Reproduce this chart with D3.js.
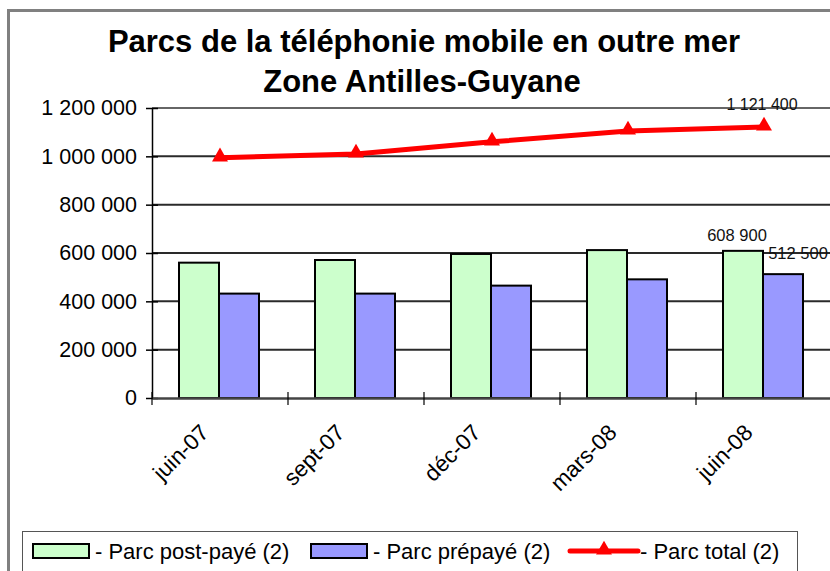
<!DOCTYPE html>
<html><head><meta charset="utf-8">
<script src="https://cdn.jsdelivr.net/npm/d3@7"></script>
<style>
html,body{margin:0;padding:0;background:#fff;}
svg{display:block;font-family:"Liberation Sans",Arial,sans-serif;}
</style></head>
<body>
<script>
const categories = ["juin-07","sept-07","déc-07","mars-08","juin-08"];
const postPaye = [560000, 571000, 596000, 612000, 608900];
const prepaye = [432000, 432000, 465000, 491000, 512500];
const total = [994000, 1010000, 1060000, 1105000, 1121400];
const yTicks = [0, 200000, 400000, 600000, 800000, 1000000, 1200000];
const seriesNames = ["- Parc post-payé (2)", "- Parc prépayé (2)", "- Parc total (2)"];
const titleLines = ["Parcs de la téléphonie mobile en outre mer", "Zone Antilles-Guyane"];

(function () {
const W = 830, H = 571;
const svg = d3.select("body").append("svg").attr("width", W).attr("height", H);

// outer frame
svg.append("rect").attr("x", 8.5).attr("y", 10.5).attr("width", 900).attr("height", 700)
  .attr("fill", "#fff").attr("stroke", "#808080").attr("stroke-width", 3);

// title
svg.append("text").attr("x", 424).attr("y", 52).attr("text-anchor", "middle")
  .attr("font-size", 31).attr("font-weight", "bold").text(titleLines[0]);
svg.append("text").attr("x", 422).attr("y", 92).attr("text-anchor", "middle")
  .attr("font-size", 31).attr("font-weight", "bold").text(titleLines[1]);

const pLeft = 152, pRight = 832, pTop = 108, pBottom = 398;
const x = d3.scaleBand().domain(categories).range([pLeft, pRight]).padding(0);
const y = d3.scaleLinear().domain([0, 1200000]).range([pBottom, pTop]);
const fmt = v => d3.format(",")(v).replace(/,/g, " ");

// gridlines
const g = svg.append("g");
g.selectAll(".grid").data(yTicks.filter(d => d > 0)).enter().append("line")
  .attr("x1", pLeft).attr("x2", W + 5).attr("y1", d => y(d)).attr("y2", d => y(d))
  .attr("stroke", d => d === 1200000 ? "#666" : "#2a2a2a").attr("stroke-width", 2);

// y axis
const yAxis = d3.axisLeft(y).tickValues(yTicks).tickFormat(fmt).tickSizeInner(6).tickSizeOuter(0);
const ya = svg.append("g").attr("transform", `translate(${pLeft},0)`).call(yAxis);
ya.select(".domain").attr("stroke", "#000").attr("stroke-width", 1.5);
ya.selectAll(".tick line").attr("stroke", "#000").attr("stroke-width", 1.5).attr("x2", -6).attr("x1", 6);
ya.selectAll(".tick text").attr("font-size", 21.5).attr("fill", "#000").attr("x", -15)
  .attr("font-family", "Liberation Sans, Arial, sans-serif");

// bars
const barW = 40, off = 27;
const bars = svg.append("g");
bars.selectAll(".post").data(categories).enter().append("rect")
  .attr("x", (d) => x(d) + off).attr("y", (d, i) => y(postPaye[i]))
  .attr("width", barW).attr("height", (d, i) => pBottom - y(postPaye[i]))
  .attr("fill", "#CCFFCC").attr("stroke", "#000").attr("stroke-width", 2);
bars.selectAll(".pre").data(categories).enter().append("rect")
  .attr("x", (d) => x(d) + off + barW).attr("y", (d, i) => y(prepaye[i]))
  .attr("width", barW).attr("height", (d, i) => pBottom - y(prepaye[i]))
  .attr("fill", "#9999FF").attr("stroke", "#000").attr("stroke-width", 2);

// x axis
const xAxis = d3.axisBottom(x).tickSize(0).tickFormat("");
const xa = svg.append("g").attr("transform", `translate(0,${pBottom})`).call(xAxis);
xa.select(".domain").attr("stroke", "#444").attr("stroke-width", 2.5);
const bounds = categories.map(c => x(c));
svg.append("g").selectAll("line").data(bounds).enter().append("line")
  .attr("x1", d => d).attr("x2", d => d).attr("y1", pBottom - 6).attr("y2", pBottom + 7)
  .attr("stroke", "#000").attr("stroke-width", 1.2);
svg.append("g").selectAll("text").data(categories).enter().append("text")
  .attr("transform", d => `translate(${x(d) + x.bandwidth() / 2 - 10},${pBottom + 36}) rotate(-45)`)
  .attr("text-anchor", "end").attr("font-size", 22.5).text(d => d);

// line
const cx = d => x(d) + x.bandwidth() / 2;
const line = d3.line().x((d, i) => cx(categories[i])).y(d => y(d));
svg.append("path").datum(total).attr("d", line).attr("fill", "none")
  .attr("stroke", "#FF0000").attr("stroke-width", 5);
const tri = d3.symbol().type(d3.symbolTriangle).size(110);
svg.append("g").selectAll("path").data(total).enter().append("path")
  .attr("d", tri).attr("transform", (d, i) => `translate(${cx(categories[i])},${y(d) - 1})`)
  .attr("fill", "#FF0000");

// data labels
const n = categories.length - 1;
svg.append("text").attr("x", cx(categories[n]) - 2).attr("y", y(total[n]) - 17)
  .attr("text-anchor", "middle").attr("font-size", 16).attr("fill", "#111").text(fmt(total[n]));
svg.append("text").attr("x", x(categories[n]) + off + barW / 2 - 6).attr("y", y(postPaye[n]) - 10)
  .attr("text-anchor", "middle").attr("font-size", 16.5).attr("fill", "#111").text(fmt(postPaye[n]));
svg.append("text").attr("x", x(categories[n]) + off + barW * 1.5 + 15).attr("y", y(prepaye[n]) - 15)
  .attr("text-anchor", "middle").attr("font-size", 16.5).attr("fill", "#111").text(fmt(prepaye[n]));

// legend
const lg = svg.append("g");
lg.append("rect").attr("x", 22.5).attr("y", 531.5).attr("width", 775).attr("height", 60)
  .attr("fill", "#fff").attr("stroke", "#555").attr("stroke-width", 1);
const ly = 551;
lg.append("rect").attr("x", 33).attr("y", ly - 7).attr("width", 56).attr("height", 14)
  .attr("fill", "#CCFFCC").attr("stroke", "#000").attr("stroke-width", 2);
lg.append("text").attr("x", 95).attr("y", ly + 8).attr("font-size", 22).text(seriesNames[0]);
lg.append("rect").attr("x", 311).attr("y", ly - 7).attr("width", 56).attr("height", 14)
  .attr("fill", "#9999FF").attr("stroke", "#000").attr("stroke-width", 2);
lg.append("text").attr("x", 373).attr("y", ly + 8).attr("font-size", 22).text(seriesNames[1]);
lg.append("line").attr("x1", 570).attr("x2", 638).attr("y1", ly).attr("y2", ly)
  .attr("stroke", "#FF0000").attr("stroke-width", 5).attr("stroke-linecap", "round");
lg.append("path").attr("d", tri).attr("transform", `translate(604,${ly - 1})`).attr("fill", "#FF0000");
lg.append("text").attr("x", 640).attr("y", ly + 8).attr("font-size", 22).text(seriesNames[2]);
})();
</script>
</body></html>
